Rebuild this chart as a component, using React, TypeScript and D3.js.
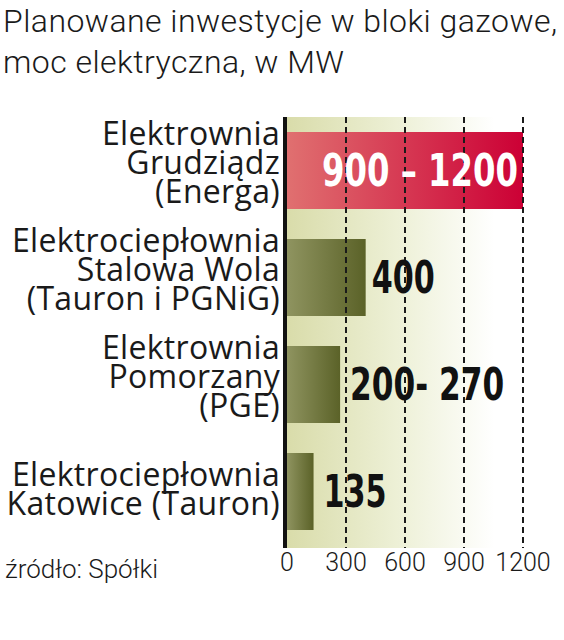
import React from "react";
import * as d3 from "d3";

const categories: string[][] = [
  ["Elektrownia", "Grudziądz", "(Energa)"],
  ["Elektrociepłownia", "Stalowa Wola", "(Tauron i PGNiG)"],
  ["Elektrownia", "Pomorzany", "(PGE)"],
  ["Elektrociepłownia", "Katowice (Tauron)"],
];
const values: number[] = [1200, 400, 270, 135];
const valueLabels: string[] = ["900 – 1200", "400", "200- 270", "135"];
const highlighted: boolean[] = [true, false, false, false];
const ticks: number[] = [0, 300, 600, 900, 1200];
const title: string[] = ["Planowane inwestycje w bloki gazowe,", "moc elektryczna, w MW"];
const source = "źródło: Spółki";

const W = 564;
const H = 640;

export default function App() {
  const x = d3.scaleLinear().domain([0, 1200]).range([287, 523]);
  const y = d3
    .scaleBand<number>()
    .domain(d3.range(values.length))
    .range([132 - 15, 530 + 15])
    .paddingInner(30 / 107)
    .paddingOuter(15 / 107);
  const plotTop = 117;
  const plotBottom = 548;
  const lightFont = "'Roboto', 'Open Sans', sans-serif";
  const labelFont = "'Open Sans', 'Noto Sans', sans-serif";
  const boldFont = "'DejaVu Sans Condensed', 'Liberation Sans Narrow', sans-serif";
  // approximate rendered widths of the value labels
  const valueWidth = (s: string) => s.length * 21 - (s.includes(" ") ? 14 : 0);

  return (
    <svg width={W} height={H} style={{ position: "absolute", left: 0, top: 0, background: "#fff" }}>
      <defs>
        <linearGradient id="bg" x1="0" x2="1" y1="0" y2="0">
          <stop offset="0" stopColor="#d9dcaa" />
          <stop offset="0.45" stopColor="#edf0d6" />
          <stop offset="0.85" stopColor="#ffffff" />
        </linearGradient>
        <linearGradient id="olive" x1="0" x2="1" y1="0" y2="0">
          <stop offset="0" stopColor="#8f9460" />
          <stop offset="1" stopColor="#5b6228" />
        </linearGradient>
        <linearGradient id="red" x1="0" x2="1" y1="0" y2="0">
          <stop offset="0" stopColor="#e07070" />
          <stop offset="1" stopColor="#cc0035" />
        </linearGradient>
      </defs>

      {title.map((t, i) => (
        <text key={i} x={3} y={32 + i * 41} fontFamily={lightFont} fontWeight={300} fontSize={32} letterSpacing={0.45} fill="#1a1a1a">
          {t}
        </text>
      ))}

      <rect x={x(0)} y={plotTop} width={x(1200) + 8 - x(0)} height={plotBottom - plotTop} fill="url(#bg)" />

      {values.map((v, i) => (
        <rect
          key={i}
          x={x(0)}
          y={y(i)!}
          width={x(v) - x(0)}
          height={y.bandwidth()}
          fill={highlighted[i] ? "url(#red)" : "url(#olive)"}
        />
      ))}

      {ticks.slice(1).map((t) => (
        <line
          key={t}
          x1={x(t)}
          x2={x(t)}
          y1={plotTop}
          y2={plotBottom}
          stroke="#1a1a1a"
          strokeWidth={2}
          strokeDasharray="6 4"
        />
      ))}

      <line x1={285} x2={285} y1={plotTop} y2={plotBottom} stroke="#111" strokeWidth={4} />

      {categories.map((lines, i) => {
        const c = y(i)! + y.bandwidth() / 2;
        const off = lines.length === 2 ? 9 : 3;
        return (
          <text key={i} textAnchor="end" fontFamily={labelFont} fontSize={32} fill="#1a1a1a" letterSpacing={0.3}>
            {lines.map((l, j) => (
              <tspan key={j} x={280} y={c + off + (j - (lines.length - 1) / 2) * 29}>
                {l}
              </tspan>
            ))}
          </text>
        );
      })}

      {values.map((v, i) => {
        const c = y(i)! + y.bandwidth() / 2;
        const inside = highlighted[i];
        return (
          <text
            key={i}
            x={inside ? x(v) - 5 : x(v) + (i === 1 ? 6 : 10)}
            y={c + 15}
            textAnchor={inside ? "end" : "start"}
            fontFamily={boldFont}
            fontWeight={700}
            fontSize={44}
            textLength={valueWidth(valueLabels[i])}
            lengthAdjust="spacingAndGlyphs"
            fill={inside ? "#ffffff" : "#111"}
          >
            {valueLabels[i]}
          </text>
        );
      })}

      {ticks.map((t) => (
        <text key={t} x={x(t)} y={571} textAnchor="middle" fontFamily={lightFont} fontWeight={300} fontSize={25} fill="#1a1a1a">
          {t}
        </text>
      ))}

      <text x={5} y={578} fontFamily={lightFont} fontWeight={300} fontSize={26} fill="#1a1a1a">
        {source}
      </text>
    </svg>
  );
}
